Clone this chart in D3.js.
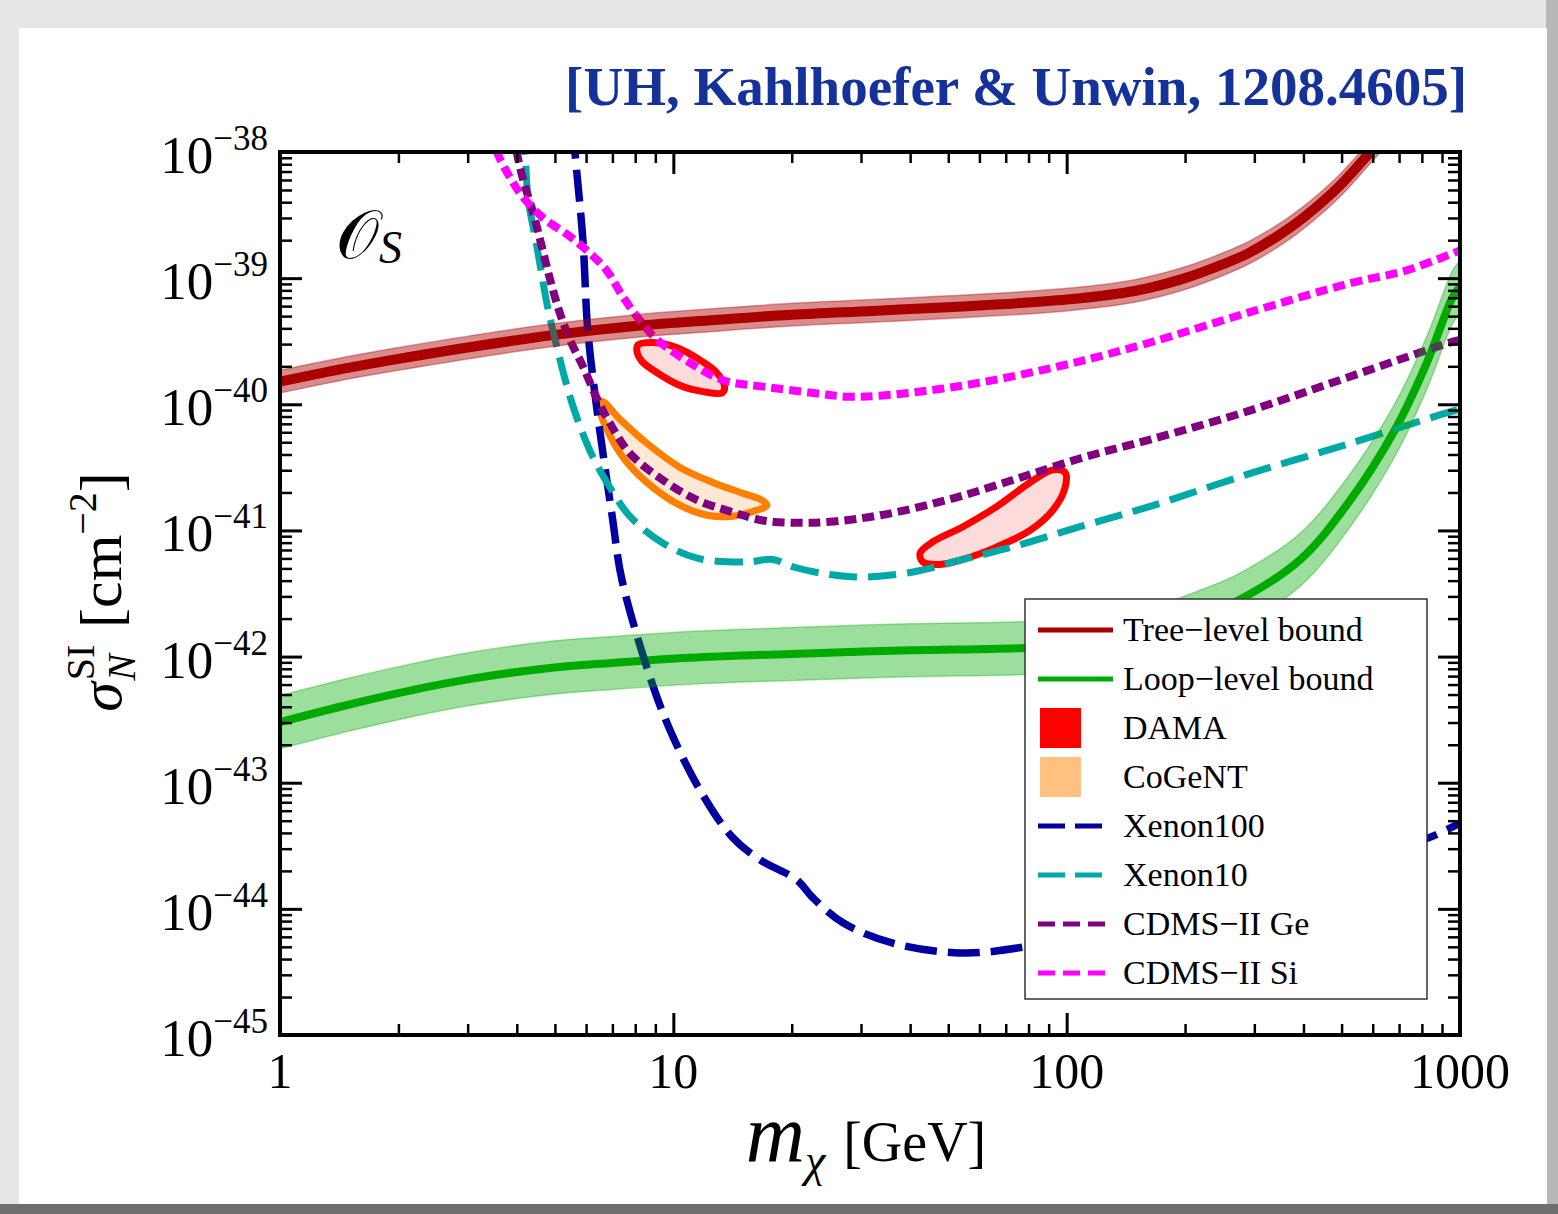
<!DOCTYPE html>
<html>
<head>
<meta charset="utf-8">
<script src="https://cdn.jsdelivr.net/npm/d3@7"></script>
<style>
  body { margin: 0; background: #e6e6e6; }
  svg { display: block; }
</style>
</head>
<body>
<svg id="canvas"></svg>
<script>
let width = 1558, height = 1214

// ---- data: [mass GeV, sigma cm^2] ----
const treeLevel = [[1,1.51e-40],[1.5,1.95e-40],[2,2.29e-40],[3,2.82e-40],[5,3.55e-40],[8,4.17e-40],[13,4.68e-40],[20,5.13e-40],[32,5.5e-40],[50,5.89e-40],[100,6.76e-40],[150,7.94e-40],[200,1.0e-39],[250,1.29e-39],[290,1.58e-39],[350,2.24e-39],[400,3.02e-39],[490,5.25e-39],[600,1.05e-38],[700,1.78e-38]]
// band: [mass, low, high]
const treeBand = [[1,1.23e-40,1.86e-40],[1.5,1.59e-40,2.40e-40],[2,1.86e-40,2.82e-40],[3,2.29e-40,3.47e-40],[5,2.89e-40,4.37e-40],[8,3.39e-40,5.13e-40],[13,3.80e-40,5.76e-40],[20,4.17e-40,6.31e-40],[32,4.47e-40,6.77e-40],[50,4.79e-40,7.24e-40],[100,5.50e-40,8.31e-40],[150,6.46e-40,9.77e-40],[200,8.13e-40,1.23e-39],[250,1.05e-39,1.59e-39],[290,1.29e-39,1.95e-39],[350,1.82e-39,2.75e-39],[400,2.46e-39,3.71e-39],[490,4.27e-39,6.46e-39],[600,8.54e-39,1.29e-38],[700,1.45e-38,2.19e-38]]

const loopLevel = [[1,3.02e-43],[1.5,4.17e-43],[2.14,5.37e-43],[3,6.6e-43],[4.86,8.13e-43],[7,8.9e-43],[11,9.77e-43],[20,1.05e-42],[40,1.12e-42],[78.5,1.17e-42],[120,1.29e-42],[170,1.58e-42],[220,2.09e-42],[275,2.82e-42],[393,5.89e-42],[526,1.74e-41],[684,6.31e-41],[824,2.14e-40],[958,7.08e-40],[1000,8.5e-40]]
const loopBand = [[1,1.86e-43,4.90e-43],[1.5,2.57e-43,6.76e-43],[2.14,3.31e-43,8.71e-43],[3,4.07e-43,1.07e-42],[4.86,5.01e-43,1.32e-42],[7,5.49e-43,1.44e-42],[11,6.02e-43,1.58e-42],[20,6.47e-43,1.70e-42],[40,6.91e-43,1.82e-42],[78.5,7.21e-43,1.90e-42],[120,7.95e-43,2.09e-42],[170,9.74e-43,2.56e-42],[220,1.29e-42,3.39e-42],[275,1.74e-42,4.57e-42],[393,3.63e-42,9.55e-42],[526,1.07e-41,2.82e-41],[684,3.89e-41,1.02e-40],[824,1.32e-40,3.47e-40],[958,4.37e-40,1.15e-39],[1000,5.24e-40,1.38e-39]]

const xenon100 = [[5.55,1.58e-38],[5.62,1.0e-38],[5.89,2.0e-39],[6.06,3.89e-40],[6.4,8.9e-41],[7.0,1.26e-41],[7.4,4.07e-42],[8.72,6.92e-43],[9.8,2.63e-43],[11.7,8.7e-44],[14.1,3.72e-44],[16.6,2.45e-44],[20.6,1.70e-44],[22.6,1.23e-44],[27,7.76e-45],[36,5.37e-45],[53.7,4.47e-45],[78.5,5.01e-45],[150,7.94e-45],[300,1.48e-44],[600,2.82e-44],[826,3.63e-44],[1000,4.79e-44]]
const xenon10 = [[4.15,1.58e-38],[4.2,1.0e-38],[4.27,4.37e-39],[4.5,1.78e-39],[4.77,6.31e-40],[5.06,2.82e-40],[5.46,1.15e-40],[5.8,6.61e-41],[6.25,3.80e-41],[6.9,2.19e-41],[7.76,1.29e-41],[9.4,7.94e-42],[11.5,6.03e-42],[15.4,5.62e-42],[17.9,5.89e-42],[20.2,5.13e-42],[25,4.47e-42],[30.4,4.27e-42],[40.7,4.68e-42],[54.5,5.89e-42],[73,7.41e-42],[108,1.07e-41],[163,1.55e-41],[292,2.82e-41],[526,4.90e-41],[943,8.71e-41],[1000,9.12e-41]]
const cdmsGe = [[3.95,1.41e-38],[4.0,1.0e-38],[4.15,6.03e-39],[4.4,3.31e-39],[4.63,1.78e-39],[4.86,9.77e-40],[5.15,5.25e-40],[5.46,3.24e-40],[5.89,2.0e-40],[6.43,1.07e-40],[6.9,7.08e-41],[7.76,4.07e-41],[9.4,2.51e-41],[11.5,1.74e-41],[14,1.41e-41],[16.9,1.20e-41],[20.6,1.15e-41],[25,1.17e-41],[33.6,1.32e-41],[49.6,1.74e-41],[73,2.51e-41],[108,3.72e-41],[163,5.25e-41],[292,8.91e-41],[526,1.66e-40],[943,3.09e-40],[1000,3.24e-40]]
const cdmsSi = [[3.45,1.41e-38],[3.56,1.0e-38],[3.84,6.31e-39],[4.15,4.37e-39],[4.66,3.02e-39],[5.46,2.14e-39],[6.13,1.58e-39],[6.77,1.15e-39],[7.45,7.08e-40],[8.2,4.68e-40],[9.1,3.24e-40],[11.0,2.14e-40],[13.4,1.55e-40],[16.9,1.38e-40],[22.7,1.23e-40],[27.6,1.15e-40],[33.6,1.17e-40],[44.9,1.29e-40],[60,1.48e-40],[80.7,1.78e-40],[108,2.19e-40],[163,3.09e-40],[292,5.37e-40],[526,9.12e-40],[730,1.15e-39],[1000,1.66e-39]]

const damaLow = [[8.13,2.95e-40],[8.88,3.09e-40],[10.2,2.82e-40],[11.7,2.24e-40],[12.9,1.78e-40],[13.5,1.38e-40],[13.3,1.23e-40],[11.9,1.26e-40],[10.4,1.41e-40],[9.09,1.78e-40],[8.32,2.19e-40],[8.09,2.57e-40]]
const damaHigh = [[42.4,6.61e-42],[45.7,8.13e-42],[54.5,1.07e-41],[66.5,1.55e-41],[80.7,2.40e-41],[92.3,3.02e-41],[99.1,2.88e-41],[99.1,2.19e-41],[92.3,1.45e-41],[80.7,1.0e-41],[66.5,7.41e-42],[54.5,5.89e-42],[47.6,5.37e-42],[43.1,5.62e-42]]
const cogent = [[6.59,1.05e-40],[7.32,7.59e-41],[8.57,4.90e-41],[10.4,3.16e-41],[12.6,2.40e-41],[14.8,2.0e-41],[16.8,1.74e-41],[17.3,1.58e-41],[15.9,1.41e-41],[13.9,1.29e-41],[12.2,1.32e-41],[10.4,1.58e-41],[8.57,2.40e-41],[7.45,3.80e-41],[6.78,6.31e-41],[6.51,8.91e-41]]

const xTicks = [1, 10, 100, 1000]
const yExponents = [-38, -39, -40, -41, -42, -43, -44, -45]
const legendNames = ["Tree\u2212level bound", "Loop\u2212level bound", "DAMA", "CoGeNT", "Xenon100", "Xenon10", "CDMS\u2212II Ge", "CDMS\u2212II Si"]

// ---- chart ----
let svg = d3.select('#canvas').attr("width", width).attr("height", height)
let pLeft = 280, pRight = 1460, pTop = 152, pBottom = 1035

// paper card
svg.append("rect").attr("x", 0).attr("y", 0).attr("width", width).attr("height", height).style("fill", "#e6e6e6")
svg.append("rect").attr("x", 1546).attr("y", 0).attr("width", 12).attr("height", height).style("fill", "#b8b8b8")
svg.append("rect").attr("x", 0).attr("y", 1204).attr("width", width).attr("height", 10).style("fill", "#6e6e6e")
svg.append("rect").attr("x", 19).attr("y", 28).attr("width", 1528).attr("height", 1176).style("fill", "white")

let x = d3.scaleLog().domain([1, 1000]).range([pLeft, pRight])
let y = d3.scaleLog().domain([1e-45, 1e-38]).range([pBottom, pTop])

svg.append("clipPath").attr("id", "plot")
  .append("rect").attr("x", pLeft).attr("y", pTop).attr("width", pRight - pLeft).attr("height", pBottom - pTop)

let g = svg.append("g").attr("clip-path", "url(#plot)")

let line = d3.line().x(d => x(d[0])).y(d => y(d[1])).curve(d3.curveCatmullRom)
let closed = d3.line().x(d => x(d[0])).y(d => y(d[1])).curve(d3.curveCatmullRomClosed)
let band = d3.area().x(d => x(d[0])).y0(d => y(d[1])).y1(d => y(d[2])).curve(d3.curveCatmullRom)

// central bound lines
g.append("path").attr("d", line(treeLevel)).style("fill", "none").style("stroke", "#aa0000").style("stroke-width", 10)
g.append("path").attr("d", line(loopLevel)).style("fill", "none").style("stroke", "#00aa00").style("stroke-width", 8)

// signal regions
g.append("path").attr("d", closed(cogent)).style("fill", "#ffe8d4").style("stroke", "#ff8000").style("stroke-width", 7)
g.append("path").attr("d", closed(damaLow)).style("fill", "#ffdcdc").style("stroke", "#ff0000").style("stroke-width", 7)
g.append("path").attr("d", closed(damaHigh)).style("fill", "#ffdcdc").style("stroke", "#ff0000").style("stroke-width", 7)

// exclusion curves
let curves = [
  [xenon100, "#0000a0", "32,11", 7.5],
  [xenon10, "#00a8a8", "28,11", 7],
  [cdmsGe, "#800080", "12,6", 8],
  [cdmsSi, "#ff00ff", "12,6", 8]
]
curves.forEach(c => {
  g.append("path").attr("d", line(c[0])).style("fill", "none")
    .style("stroke", c[1]).style("stroke-dasharray", c[2]).style("stroke-width", c[3])
})

// uncertainty bands on top
g.append("path").attr("d", band(treeBand)).style("fill", "rgba(170,0,0,0.45)").style("stroke", "rgba(170,0,0,0.35)").style("stroke-width", 1.5)
g.append("path").attr("d", band(loopBand)).style("fill", "rgba(0,170,0,0.39)").style("stroke", "rgba(0,170,0,0.35)").style("stroke-width", 1.5)

// axes with inward ticks
let minorX = x.ticks().filter(d => xTicks.indexOf(d) < 0)
let majorY = yExponents.map(e => Math.pow(10, e))
let minorY = y.ticks().filter(d => Math.abs(Math.log10(d) - Math.round(Math.log10(d))) > 1e-6)

function ticks(axis, tx, ty, vals, size, w) {
  let a = svg.append("g").attr("transform", `translate(${tx},${ty})`)
    .call(axis.tickValues(vals).tickSize(-size).tickFormat(""))
  a.select(".domain").remove()
  a.selectAll("line").style("stroke", "black").style("stroke-width", w)
}
ticks(d3.axisBottom(x), 0, pBottom, xTicks, 22, 3)
ticks(d3.axisBottom(x), 0, pBottom, minorX, 11, 2.5)
ticks(d3.axisTop(x), 0, pTop, xTicks, 22, 3)
ticks(d3.axisTop(x), 0, pTop, minorX, 11, 2.5)
ticks(d3.axisLeft(y), pLeft, 0, majorY, 22, 3)
ticks(d3.axisLeft(y), pLeft, 0, minorY, 12, 2.5)
ticks(d3.axisRight(y), pRight, 0, majorY, 22, 3)
ticks(d3.axisRight(y), pRight, 0, minorY, 12, 2.5)

svg.append("rect").attr("x", pLeft).attr("y", pTop).attr("width", pRight - pLeft).attr("height", pBottom - pTop)
  .style("fill", "none").style("stroke", "black").style("stroke-width", 4)

let serif = "'Liberation Serif', 'Times New Roman', serif"

// x tick labels
svg.selectAll(".xlab").data(xTicks).enter().append("text")
  .attr("x", d => x(d)).attr("y", pBottom + 53)
  .attr("text-anchor", "middle").style("font-family", serif).style("font-size", "50px")
  .text(d => d)

// y tick labels 10^n
let yl = svg.selectAll(".ylab").data(yExponents).enter().append("text")
  .attr("x", 268).attr("y", d => y(Math.pow(10, d)) + 21)
  .attr("text-anchor", "end").style("font-family", serif).style("font-size", "53px")
yl.append("tspan").text("10")
yl.append("tspan").attr("dy", -23).style("font-size", "35px").text(d => "\u2212" + (-d))

// axis titles
let xt = svg.append("text").attr("x", 866).attr("y", 1161).attr("text-anchor", "middle")
  .style("font-family", serif).style("font-size", "56px")
xt.append("tspan").style("font-style", "italic").style("font-size", "82px").text("m")
xt.append("tspan").attr("dy", 15).style("font-style", "italic").style("font-size", "46px").text("\u03c7")
xt.append("tspan").attr("dx", 18).attr("dy", -15).text("[GeV]")

let yt = svg.append("text").attr("transform", "translate(121,592) rotate(-90)").attr("text-anchor", "middle")
  .style("font-family", serif).style("font-size", "60px")
yt.append("tspan").style("font-style", "italic").text("\u03c3")
yt.append("tspan").attr("dx", 2).attr("dy", -27).style("font-size", "40px").text("SI")
yt.append("tspan").attr("dx", -36).attr("dy", 41).style("font-size", "40px").style("font-style", "italic").text("N")
yt.append("tspan").attr("dx", 26).attr("dy", -14).text("[cm")
yt.append("tspan").attr("dy", -25).style("font-size", "40px").text("\u22122")
yt.append("tspan").attr("dy", 25).text("]")

// operator label
let os = svg.append("text").attr("x", 336).attr("y", 258).style("font-family", serif).style("font-size", "68px")
os.append("tspan").text("\ud835\udcaa")
os.append("tspan").attr("dy", 5).style("font-style", "italic").style("font-size", "46px").text("S")

// title
svg.append("text").attr("x", 1467).attr("y", 105).attr("text-anchor", "end")
  .style("font-family", serif).style("font-weight", "bold").style("font-size", "55px").style("fill", "#14329a")
  .text("[UH, Kahlhoefer & Unwin, 1208.4605]")

// legend
let lg = svg.append("g")
lg.append("rect").attr("x", 1025).attr("y", 599).attr("width", 402).attr("height", 400)
  .style("fill", "white").style("stroke", "#333").style("stroke-width", 1.5)
let legendStyle = [
  {type: "line", color: "#aa0000", dash: null},
  {type: "line", color: "#00aa00", dash: null},
  {type: "box", color: "#ff0000"},
  {type: "box", color: "#ffc080"},
  {type: "line", color: "#0000a0", dash: "27,10"},
  {type: "line", color: "#00a8a8", dash: "27,10"},
  {type: "line", color: "#800080", dash: "17,8"},
  {type: "line", color: "#ff00ff", dash: "17,8"}
]
let rowY = d3.scalePoint().domain(legendNames).range([630, 973])
legendNames.forEach((n, i) => {
  let s = legendStyle[i], cy = rowY(n)
  if (s.type == "line") {
    lg.append("line").attr("x1", 1038).attr("x2", s.dash ? 1106 : 1113).attr("y1", cy).attr("y2", cy)
      .style("stroke", s.color).style("stroke-width", 5).style("stroke-dasharray", s.dash)
  } else {
    lg.append("rect").attr("x", 1040).attr("y", cy - 20).attr("width", 41).attr("height", 40).style("fill", s.color)
  }
  lg.append("text").attr("x", 1123).attr("y", cy + 11).style("font-family", serif).style("font-size", "34px").text(n)
})
</script>
</body>
</html>
